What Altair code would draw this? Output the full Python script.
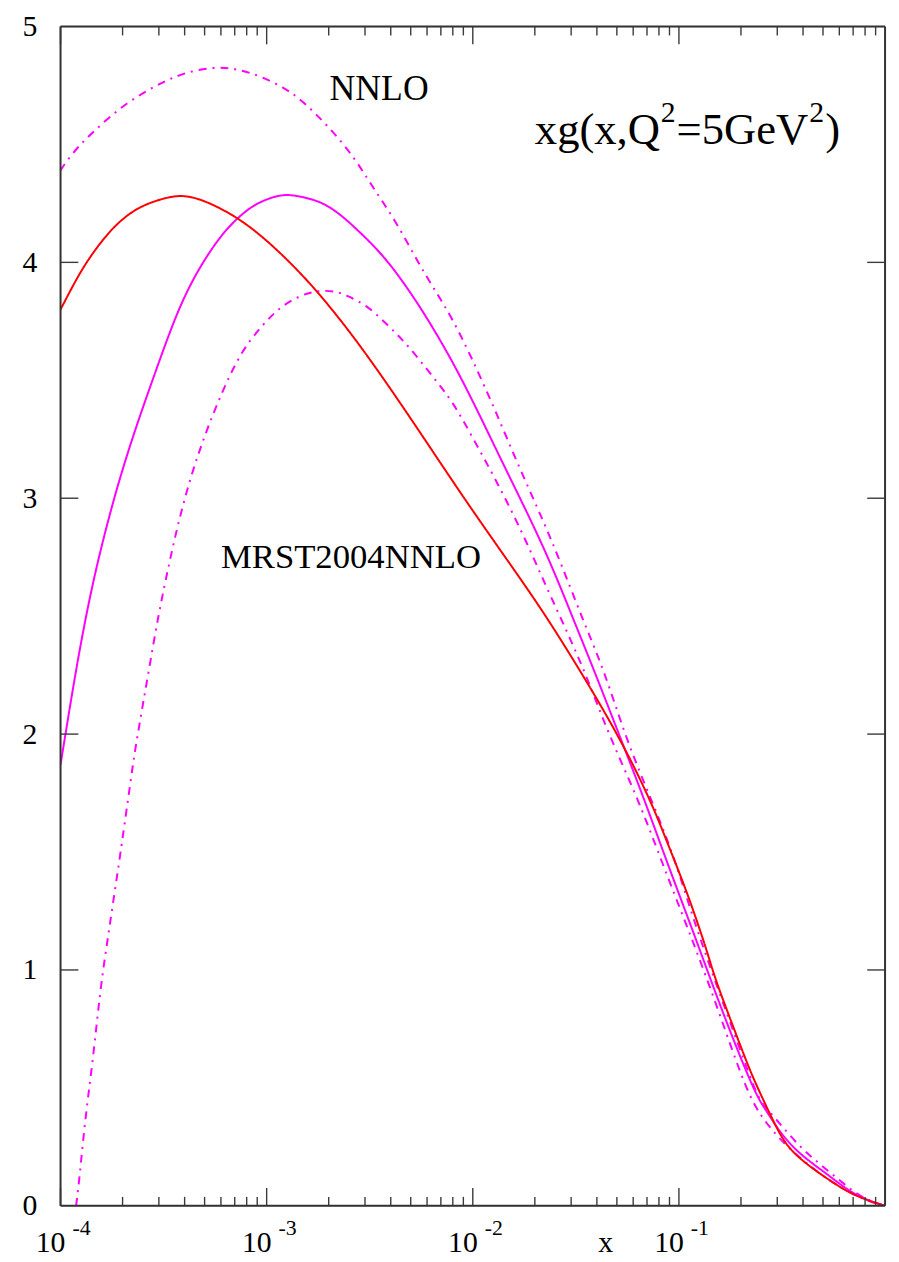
import altair as alt
import pandas as pd

# ---------------- data ----------------
red_x = [1.0e-4, 1.21e-4, 1.43e-4, 1.76e-4, 2.10e-4, 2.53e-4, 3.53e-4, 4.31e-4, 5.37e-4, 7.24e-4,
         9.86e-4, 1.41e-3, 1.96e-3, 2.95e-3, 4.91e-3, 9.2e-3, 1.55e-2, 2.23e-2, 3.0e-2, 3.88e-2,
         5.41e-2, 7.36e-2, 8.6e-2, 0.104, 0.12, 0.138, 0.150, 0.187, 0.225, 0.263, 0.303, 0.354,
         0.552, 0.719, 1.0]
red_y = [3.80, 3.94, 4.04, 4.14, 4.20, 4.245, 4.285, 4.28, 4.25, 4.19,
         4.10, 3.97, 3.83, 3.63, 3.35, 2.99, 2.71, 2.51, 2.33, 2.17,
         1.95, 1.71, 1.56, 1.38, 1.23, 1.07, 0.96, 0.74, 0.555, 0.43, 0.315, 0.22,
         0.10, 0.04, 0.0]

mag_x = [1.0e-4, 1.07e-4, 1.23e-4, 1.43e-4, 1.68e-4, 1.96e-4, 2.32e-4, 2.74e-4, 3.23e-4, 3.81e-4,
         4.65e-4, 5.93e-4, 7.24e-4, 8.55e-4, 1.01e-3, 1.22e-3, 1.45e-3, 1.81e-3, 2.24e-3, 2.82e-3,
         3.68e-3, 4.75e-3, 6.05e-3, 7.98e-3, 1.03e-2, 1.43e-2, 2.23e-2, 3.0e-2, 3.88e-2,
         5.22e-2, 6.82e-2, 8.89e-2, 0.12, 0.161, 0.235, 0.263, 0.314, 0.396, 0.533, 0.719, 1.0]
mag_y = [1.87, 2.03, 2.35, 2.64, 2.89, 3.10, 3.30, 3.48, 3.655, 3.82,
         3.97, 4.11, 4.19, 4.24, 4.27, 4.29, 4.28, 4.26, 4.21, 4.13,
         4.03, 3.90, 3.76, 3.58, 3.39, 3.13, 2.79, 2.51, 2.27,
         1.98, 1.72, 1.44, 1.14, 0.83, 0.47, 0.41, 0.30, 0.21, 0.13, 0.04, 0.0]

up_x = [1.0e-4, 1.07e-4, 1.23e-4, 1.43e-4, 1.72e-4, 2.10e-4, 2.59e-4, 3.23e-4, 4.03e-4, 5.61e-4,
        7.24e-4, 9.33e-4, 1.22e-3, 1.47e-3, 1.98e-3, 2.64e-3, 3.26e-3, 4.20e-3, 5.42e-3, 6.68e-3,
        7.98e-3, 9.95e-3, 1.29e-2, 1.66e-2, 2.16e-2, 2.69e-2, 3.47e-2, 4.34e-2, 5.59e-2, 7.36e-2,
        9.4e-2, 0.117, 0.150, 0.195, 0.243, 0.275, 0.314, 0.396, 0.478, 0.617, 0.778, 1.0]
up_y = [4.39, 4.43, 4.495, 4.55, 4.615, 4.675, 4.725, 4.77, 4.805, 4.83,
        4.82, 4.79, 4.74, 4.69, 4.58, 4.45, 4.32, 4.18, 4.00, 3.87,
        3.76, 3.59, 3.37, 3.14, 2.92, 2.72, 2.47, 2.27, 1.97, 1.72,
        1.49, 1.22, 0.95, 0.68, 0.445, 0.40, 0.34, 0.24, 0.18, 0.10, 0.03, 0.0]

lo_x = [1.19e-4, 1.23e-4, 1.28e-4, 1.35e-4, 1.43e-4, 1.51e-4, 1.59e-4, 1.68e-4, 1.78e-4, 1.92e-4,
        2.03e-4, 2.14e-4, 2.26e-4, 2.39e-4, 2.67e-4, 2.99e-4, 3.34e-4, 3.73e-4, 4.31e-4, 5.02e-4,
        6.00e-4, 7.48e-4, 9.54e-4, 1.16e-3, 1.45e-3, 1.75e-3, 2.12e-3, 2.44e-3, 3.05e-3, 3.80e-3,
        4.59e-3, 5.48e-3, 6.61e-3, 7.98e-3, 9.95e-3, 1.29e-2, 1.73e-2, 2.23e-2, 2.88e-2, 3.59e-2,
        4.6e-2, 6.38e-2, 8.41e-2, 0.1135, 0.150, 0.215, 0.26, 0.31, 0.40, 0.53, 0.72, 0.97, 1.0]
lo_y = [0.0, 0.10, 0.26, 0.44, 0.61, 0.80, 0.97, 1.11, 1.26, 1.45,
        1.60, 1.74, 1.89, 2.02, 2.26, 2.51, 2.71, 2.90, 3.10, 3.27,
        3.44, 3.62, 3.735, 3.81, 3.86, 3.88, 3.88, 3.86, 3.82, 3.74,
        3.67, 3.59, 3.50, 3.41, 3.26, 3.08, 2.86, 2.64, 2.43, 2.24,
        1.99, 1.72, 1.44, 1.15, 0.87, 0.47, 0.36, 0.28, 0.19, 0.11, 0.04, 0.0, 0.0]

series_names = ["upper", "lower", "central", "MRST2004NNLO"]
series_colors = ["#ff00ff", "#ff00ff", "#ff00ff", "#ff0000"]
series_dash = [[8, 6, 2, 6], [8, 6, 2, 6], [1, 0], [1, 0]]

x_major = [1e-4, 1e-3, 1e-2, 1e-1]
x_major_base = ["10", "10", "10", "10"]
x_major_exp = ["-4", "-3", "-2", "-1"]
x_minor = [k * 10.0 ** e for e in (-4, -3, -2, -1) for k in range(2, 10)]
y_ticks = [0, 1, 2, 3, 4, 5]
y_inner_ticks = [1, 2, 3, 4]

W, H = 832, 1190
FONT = "Liberation Serif"
FRAME = "#333333"
TICK = "#3a3a3a"

rows = []
for name, xs, ys in [("upper", up_x, up_y), ("lower", lo_x, lo_y),
                     ("central", mag_x, mag_y), ("MRST2004NNLO", red_x, red_y)]:
    for i, (a, b) in enumerate(zip(xs, ys)):
        rows.append({"series": name, "x": a, "y": b, "i": i})
df = pd.DataFrame(rows)

xscale = alt.Scale(type="log", domain=[1e-4, 1.0], nice=False)
yscale = alt.Scale(domain=[0, 5], nice=False, zero=False)

lines = alt.Chart(df).mark_line(strokeWidth=2, clip=True, interpolate="basis").encode(
    x=alt.X("x:Q", scale=xscale, axis=None),
    y=alt.Y("y:Q", scale=yscale,
            axis=alt.Axis(values=y_ticks, format="d", domain=False, ticks=False, tickSize=0,
                          grid=False, labelFont=FONT, labelFontSize=30, labelColor="black",
                          labelPadding=24, labelBaseline="middle", title=None)),
    color=alt.Color("series:N", scale=alt.Scale(domain=series_names, range=series_colors), legend=None),
    strokeDash=alt.StrokeDash("series:N", scale=alt.Scale(domain=series_names, range=series_dash), legend=None),
    order=alt.Order("i:Q"),
    detail="series:N",
)

minor_df = pd.DataFrame({"v": x_minor})
major_df = pd.DataFrame({"v": x_major})
ytick_df = pd.DataFrame({"v": y_inner_ticks})

def xticks(d, y0, y1):
    return alt.Chart(d).mark_rule(color=TICK, strokeWidth=1.4).encode(
        x=alt.X("v:Q", scale=xscale), y=alt.value(y0), y2=alt.value(y1))

def yticks(x0, x1):
    return alt.Chart(ytick_df).mark_rule(color=TICK, strokeWidth=1.4).encode(
        y=alt.Y("v:Q", scale=yscale), x=alt.value(x0), x2=alt.value(x1))

ticks = (xticks(minor_df, H, H - 9) + xticks(major_df, H, H - 18) +
         xticks(minor_df, 0, 9) + xticks(major_df, 0, 18) +
         yticks(0, 18) + yticks(W, W - 18))

# plot frame
frame_df = pd.DataFrame({"k": [0]})
frame = alt.layer(
    alt.Chart(frame_df).mark_rule(color=FRAME, strokeWidth=2).encode(
        x=alt.value(0), x2=alt.value(W), y=alt.value(0)),
    alt.Chart(frame_df).mark_rule(color=FRAME, strokeWidth=2).encode(
        x=alt.value(0), x2=alt.value(W), y=alt.value(H)),
    alt.Chart(frame_df).mark_rule(color=FRAME, strokeWidth=2).encode(
        x=alt.value(0), y=alt.value(0), y2=alt.value(H)),
    alt.Chart(frame_df).mark_rule(color=FRAME, strokeWidth=2).encode(
        x=alt.value(W), y=alt.value(0), y2=alt.value(H)),
)

lab_df = pd.DataFrame({"v": x_major, "base": x_major_base, "exp": x_major_exp})
base_labels = alt.Chart(lab_df).mark_text(font=FONT, fontSize=30, align="center",
                                          baseline="alphabetic", dx=-10, color="black").encode(
    x=alt.X("v:Q", scale=xscale), y=alt.value(H + 47), text="base:N")
exp_labels = alt.Chart(lab_df).mark_text(font=FONT, fontSize=22, align="left",
                                         baseline="alphabetic", dx=12, color="black").encode(
    x=alt.X("v:Q", scale=xscale), y=alt.value(H + 29), text="exp:N")
x_title = alt.Chart(pd.DataFrame({"t": ["x"]})).mark_text(
    font=FONT, fontSize=30, align="center", baseline="alphabetic", color="black").encode(
    x=alt.value(550), y=alt.value(H + 47), text="t:N")

# annotations placed in data coordinates
ann_df = pd.DataFrame({"x": [2.02e-3, 6.0e-4], "y": [4.69, 2.706],
                       "t": ["NNLO", "MRST2004NNLO"], "s": [36, 35]})
ann = alt.Chart(ann_df).mark_text(font=FONT, align="left", baseline="alphabetic", color="black").encode(
    x=alt.X("x:Q", scale=xscale), y=alt.Y("y:Q", scale=yscale), text="t:N",
    size=alt.Size("s:Q", scale=None, legend=None))

title_x, title_y = 2.0e-2, 4.50
title_parts = [("xg(x,Q", 45, 0, 0), ("2", 30, 127, -23), ("=5GeV", 45, 143, 0),
               ("2", 30, 277, -23), (")", 45, 293, 0)]
title_layers = []
for txt, fs, dx, dy in title_parts:
    title_layers.append(
        alt.Chart(pd.DataFrame({"x": [title_x], "y": [title_y], "t": [txt]})).mark_text(
            font=FONT, fontSize=fs, align="left", baseline="alphabetic", dx=dx, dy=dy, color="black"
        ).encode(x=alt.X("x:Q", scale=xscale), y=alt.Y("y:Q", scale=yscale), text="t:N"))

chart = alt.layer(lines, ticks, frame, base_labels, exp_labels, x_title, ann, *title_layers).properties(
    width=W, height=H,
    autosize=alt.AutoSizeParams(type="none"),
    padding={"left": 53, "top": 13, "right": 6, "bottom": 49},
).configure_view(stroke=None).configure_axis(labelFont=FONT).configure_text(
    font=FONT).configure(background="white")

chart.save("out.html", embed_options={"renderer": "svg", "actions": False})
